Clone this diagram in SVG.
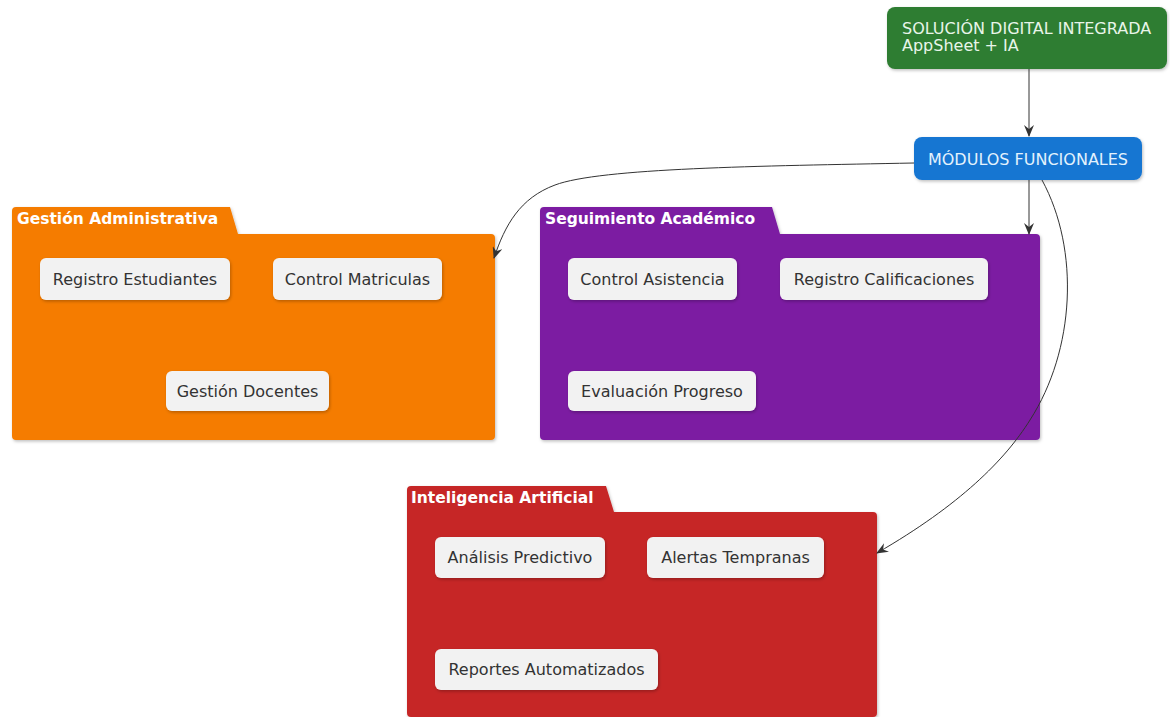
<svg xmlns="http://www.w3.org/2000/svg" width="1170" height="717" viewBox="0 0 1170 717">
  <style>
    .pkg-title { font-family: "DejaVu Sans", Verdana, sans-serif; font-size: 15.5px; font-weight: bold; fill: #ffffff; }
    .node rect { fill: #f2f2f2; stroke: none; }
    .node text { font-family: "DejaVu Sans", Verdana, sans-serif; font-size: 16px; fill: #333333; text-anchor: middle; }
    .conn { fill: none; stroke: #333333; stroke-width: 1; }
    .top-text { font-family: "DejaVu Sans", Verdana, sans-serif; font-size: 16px; }
  </style>
  <defs>
    <marker id="arrow" viewBox="0 0 12 10" refX="11" refY="5" markerWidth="12" markerHeight="10" markerUnits="userSpaceOnUse" orient="auto">
      <path d="M0,0 L12,5 L0,10 L4,5 Z" fill="#333333"/>
    </marker>
    <filter id="shadow" x="-10%" y="-10%" width="120%" height="130%">
      <feDropShadow dx="1" dy="1.5" stdDeviation="1.5" flood-color="#000000" flood-opacity="0.25"/>
    </filter>
  </defs>
  <rect width="1170" height="717" fill="#ffffff"/>

  <!-- top entry point -->
  <g id="solucion">
    <rect x="887" y="7" width="280" height="62" rx="8" fill="#2e7d32" filter="url(#shadow)"/>
    <text class="top-text" x="902" y="34" fill="#e8f5e9">SOLUCIÓN DIGITAL INTEGRADA</text>
    <text class="top-text" x="902" y="51" fill="#e8f5e9">AppSheet + IA</text>
  </g>

  <g id="modulos">
    <rect x="914" y="137" width="228" height="43" rx="8" fill="#1976d2" filter="url(#shadow)"/>
    <text class="top-text" x="1028" y="165" fill="#e3f2fd" text-anchor="middle">MÓDULOS FUNCIONALES</text>
  </g>

  <!-- package: administration -->
  <g id="gestion-administrativa">
    <path d="M12,436 L12,211 Q12,207 16,207 L230,207 L238,234 L491,234 Q495,234 495,238 L495,436 Q495,440 491,440 L16,440 Q12,440 12,436 Z" fill="#f57c00" filter="url(#shadow)"/>
    <text class="pkg-title" x="17" y="224">Gestión Administrativa</text>
    <g class="node" id="registro-estudiantes">
      <rect x="40" y="258" width="190" height="42" rx="6" filter="url(#shadow)"/>
      <text x="135" y="285">Registro Estudiantes</text>
    </g>
    <g class="node" id="control-matriculas">
      <rect x="273" y="258" width="169" height="42" rx="6" filter="url(#shadow)"/>
      <text x="357.5" y="285">Control Matriculas</text>
    </g>
    <g class="node" id="gestion-docentes">
      <rect x="166" y="371" width="163" height="40" rx="6" filter="url(#shadow)"/>
      <text x="247.5" y="397">Gestión Docentes</text>
    </g>
  </g>

  <!-- package: academic tracking -->
  <g id="seguimiento-academico">
    <path d="M540,436 L540,211 Q540,207 544,207 L772,207 L780,234 L1036,234 Q1040,234 1040,238 L1040,436 Q1040,440 1036,440 L544,440 Q540,440 540,436 Z" fill="#7b1fa2" filter="url(#shadow)"/>
    <text class="pkg-title" x="545" y="224">Seguimiento Académico</text>
    <g class="node" id="control-asistencia">
      <rect x="568" y="258" width="169" height="42" rx="6" filter="url(#shadow)"/>
      <text x="652.5" y="285">Control Asistencia</text>
    </g>
    <g class="node" id="registro-calificaciones">
      <rect x="780" y="258" width="208" height="42" rx="6" filter="url(#shadow)"/>
      <text x="884" y="285">Registro Calificaciones</text>
    </g>
    <g class="node" id="evaluacion-progreso">
      <rect x="568" y="371" width="188" height="40" rx="6" filter="url(#shadow)"/>
      <text x="662" y="397">Evaluación Progreso</text>
    </g>
  </g>

  <!-- package: artificial intelligence -->
  <g id="inteligencia-artificial">
    <path d="M407,713 L407,490 Q407,486 411,486 L606,486 L614,512 L873,512 Q877,512 877,516 L877,713 Q877,717 873,717 L411,717 Q407,717 407,713 Z" fill="#c62828" filter="url(#shadow)"/>
    <text class="pkg-title" x="411" y="503">Inteligencia Artificial</text>
    <g class="node" id="analisis-predictivo">
      <rect x="435" y="537" width="170" height="41" rx="6" filter="url(#shadow)"/>
      <text x="520" y="563">Análisis Predictivo</text>
    </g>
    <g class="node" id="alertas-tempranas">
      <rect x="647" y="537" width="177" height="41" rx="6" filter="url(#shadow)"/>
      <text x="735.5" y="563">Alertas Tempranas</text>
    </g>
    <g class="node" id="reportes-automatizados">
      <rect x="435" y="649" width="223" height="41" rx="6" filter="url(#shadow)"/>
      <text x="546.5" y="675">Reportes Automatizados</text>
    </g>
  </g>

  <!-- connectors -->
  <g id="connectors">
    <path class="conn" d="M1029,69 L1029,136" marker-end="url(#arrow)"/>
    <path class="conn" d="M914,163 C760,166 600,168 555,185 C520,198 505,225 494,258" marker-end="url(#arrow)"/>
    <path class="conn" d="M1029,180 L1029,234" marker-end="url(#arrow)"/>
    <path class="conn" d="M1042,180 C1080,250 1075,350 1030,420 C1005,460 960,505 877,553" marker-end="url(#arrow)"/>
  </g>
</svg>
